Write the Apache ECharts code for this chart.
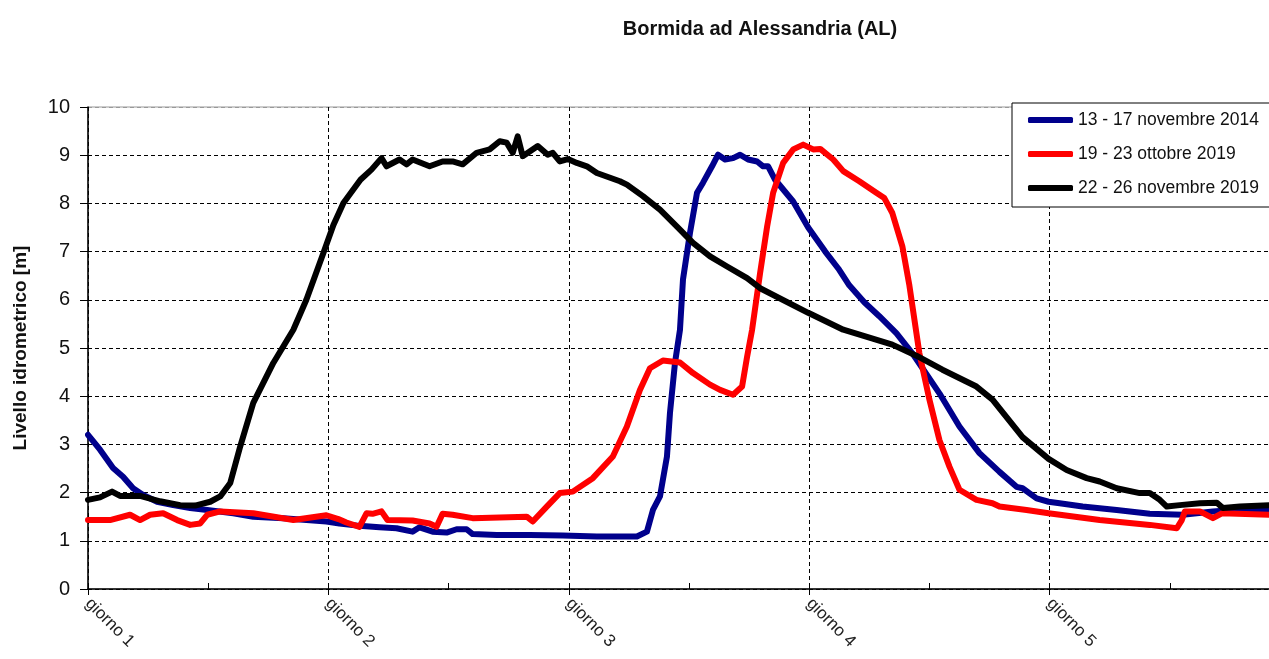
<!DOCTYPE html>
<html>
<head>
<meta charset="utf-8">
<title>Bormida ad Alessandria (AL)</title>
<script src="https://cdn.jsdelivr.net/npm/echarts@6/dist/echarts.min.js"></script>
<style>
  html, body { margin: 0; padding: 0; background: #fff; overflow: hidden; }
  /* the plot runs on to the end of day 5, a little past the window's right edge */
  #chart { width: 1290px; height: 659px; }
</style>
</head>
<body>
<div id="chart"></div>
<script>
// Hydrometric level of the Bormida at Alessandria, three flood events.
// x = hours elapsed since the start of "giorno 1", y = level in metres.

const seriesNames = ['13 - 17 novembre 2014', '19 - 23 ottobre 2019', '22 - 26 novembre 2019'];
const dayLabels = ['giorno 1', 'giorno 2', 'giorno 3', 'giorno 4', 'giorno 5'];
const yTicks = [0, 1, 2, 3, 4, 5, 6, 7, 8, 9, 10];

const nov2014 = [
  [0, 3.20], [1.2, 2.89], [2.5, 2.51], [3.5, 2.33], [4.5, 2.09], [5.5, 1.95], [6.9, 1.81],
  [8.5, 1.74], [10.2, 1.68], [11.9, 1.64], [14.5, 1.57], [16.5, 1.50], [19.5, 1.47],
  [23.8, 1.40], [25.1, 1.36], [27.1, 1.31], [29.1, 1.28], [30.8, 1.26], [32.4, 1.19],
  [33.1, 1.28], [34.4, 1.19], [35.8, 1.17], [36.8, 1.24], [37.8, 1.24], [38.4, 1.14],
  [40.8, 1.12], [44.1, 1.12], [47.4, 1.11], [50.8, 1.09], [54.8, 1.09], [55.8, 1.19],
  [56.4, 1.64], [57.1, 1.92], [57.8, 2.75], [58.1, 3.65], [58.6, 4.69], [59.1, 5.38],
  [59.4, 6.42], [60.1, 7.39], [60.8, 8.22], [61.4, 8.43], [62.3, 8.77], [62.9, 9.01],
  [63.6, 8.91], [64.4, 8.94], [65.1, 9.01], [65.9, 8.91], [66.8, 8.87], [67.4, 8.77],
  [67.9, 8.77], [68.6, 8.49], [70.4, 8.04], [71.9, 7.50], [73.6, 7.00], [74.9, 6.65],
  [76.0, 6.30], [77.5, 5.95], [79.0, 5.66], [80.7, 5.31], [82.3, 4.89], [85.0, 4.06],
  [87.0, 3.37], [89.0, 2.82], [91.0, 2.43], [92.7, 2.12], [93.3, 2.09], [94.7, 1.88],
  [95.9, 1.81], [97.0, 1.78], [99.3, 1.71], [102.7, 1.64], [106.0, 1.56], [109.3, 1.54],
  [112.3, 1.61], [114.3, 1.64], [117.9, 1.64]
];

const oct2019 = [
  [0, 1.43], [2.2, 1.43], [4.2, 1.54], [5.2, 1.43], [6.2, 1.54], [7.5, 1.57], [8.9, 1.43],
  [10.2, 1.33], [11.2, 1.36], [11.9, 1.54], [13.2, 1.61], [16.5, 1.57], [20.5, 1.43],
  [23.8, 1.53], [25.0, 1.45], [25.8, 1.38], [27.1, 1.29], [27.8, 1.57], [28.4, 1.56],
  [29.3, 1.61], [29.9, 1.43], [32.4, 1.42], [34.1, 1.36], [34.8, 1.29], [35.4, 1.56],
  [36.4, 1.54], [38.4, 1.47], [43.8, 1.50], [44.4, 1.40], [45.8, 1.71], [47.1, 1.99],
  [48.4, 2.02], [50.4, 2.30], [52.4, 2.75], [53.8, 3.37], [55.1, 4.13], [56.1, 4.58],
  [57.4, 4.74], [59.1, 4.70], [60.4, 4.48], [62.1, 4.24], [63.1, 4.13], [64.4, 4.03],
  [65.3, 4.20], [65.8, 4.82], [66.3, 5.38], [67.1, 6.56], [67.8, 7.52], [68.4, 8.22],
  [69.4, 8.84], [70.4, 9.12], [71.4, 9.22], [72.4, 9.12], [73.1, 9.13], [74.4, 8.91],
  [75.4, 8.67], [77.0, 8.46], [78.7, 8.22], [79.5, 8.11], [80.3, 7.80], [81.3, 7.11],
  [82.0, 6.30], [83.0, 4.89], [84.0, 3.93], [85.0, 3.09], [86.0, 2.54], [87.0, 2.06],
  [88.7, 1.85], [90.3, 1.78], [91.0, 1.71], [93.7, 1.64], [95.9, 1.57], [101.0, 1.43],
  [106.0, 1.33], [108.7, 1.26], [109.2, 1.43], [109.5, 1.61], [111.0, 1.61], [112.3, 1.47],
  [113.2, 1.57], [117.9, 1.54]
];

const nov2019 = [
  [0, 1.85], [1.2, 1.90], [2.4, 2.02], [3.2, 1.93], [5.2, 1.93], [7.2, 1.82], [9.2, 1.74],
  [10.7, 1.73], [12.2, 1.81], [13.2, 1.92], [14.2, 2.20], [15.2, 2.96], [16.5, 3.86],
  [18.5, 4.69], [20.5, 5.38], [21.8, 6.00], [23.5, 6.97], [24.5, 7.55], [25.5, 8.01],
  [27.2, 8.49], [28.3, 8.70], [29.3, 8.94], [29.8, 8.77], [31.1, 8.91], [31.8, 8.81],
  [32.4, 8.91], [34.1, 8.77], [35.4, 8.87], [36.4, 8.87], [37.4, 8.81], [38.8, 9.05],
  [40.1, 9.12], [41.1, 9.29], [41.8, 9.26], [42.4, 9.05], [42.9, 9.39], [43.4, 8.98],
  [44.9, 9.19], [45.9, 9.01], [46.4, 9.05], [47.1, 8.87], [47.9, 8.92], [48.8, 8.84],
  [49.8, 8.77], [50.8, 8.63], [53.1, 8.46], [53.8, 8.39], [55.4, 8.15], [57.1, 7.87],
  [58.8, 7.52], [60.4, 7.18], [62.1, 6.90], [63.8, 6.69], [65.8, 6.45], [67.1, 6.24],
  [71.9, 5.73], [75.4, 5.38], [80.3, 5.07], [82.7, 4.84], [85.3, 4.55], [88.7, 4.20],
  [90.3, 3.93], [93.3, 3.15], [95.9, 2.70], [97.7, 2.47], [99.7, 2.30], [101.0, 2.23],
  [102.7, 2.09], [105.0, 1.99], [106.0, 1.99], [107.0, 1.85], [107.7, 1.71], [109.0, 1.74],
  [111.0, 1.78], [112.7, 1.79], [113.3, 1.68], [115.0, 1.71], [117.9, 1.74]
];

const lineColors = ['#00008c', '#ff0000', '#000000'];

const chart = echarts.init(document.getElementById('chart'), null, { renderer: 'canvas' });

const gridLine = { color: '#000', width: 1, type: [4, 3] };
const font = 'Liberation Sans, Arial, sans-serif';

function makeSeries(name, data, color) {
  return {
    name: name,
    type: 'line',
    data: data,
    xAxisIndex: 0,
    yAxisIndex: 0,
    showSymbol: false,
    symbol: 'none',
    smooth: false,
    lineStyle: { color: color, width: 6, cap: 'round', join: 'round' },
    itemStyle: { color: color },
    emphasis: { disabled: true }
  };
}

chart.setOption({
  animation: false,
  backgroundColor: '#fff',
  title: {
    text: 'Bormida ad Alessandria (AL)',
    left: 755,
    top: 14,
    textAlign: 'center',
    textStyle: { fontFamily: font, fontSize: 20, fontWeight: 'bold', color: '#111' }
  },
  legend: {
    orient: 'vertical',
    left: 1012,
    top: 103,
    padding: [8, 30, 10, 16],
    itemGap: 16,
    itemWidth: 45,
    itemHeight: 6,
    icon: 'roundRect',
    borderColor: '#000',
    borderWidth: 1,
    backgroundColor: '#fff',
    data: seriesNames,
    textStyle: { fontFamily: font, fontSize: 17.5, color: '#111' }
  },
  grid: {
    left: 88,
    right: 0,
    top: 107,
    bottom: 70,
    show: true,
    borderColor: '#999',
    borderWidth: 1,
    backgroundColor: '#fff'
  },
  xAxis: [
    {
      type: 'value',
      min: 0,
      max: 120,
      interval: 24,
      axisLine: { show: true, onZero: false, lineStyle: { color: '#000', width: 1.5 } },
      axisTick: { show: true, inside: false, length: 6, lineStyle: { color: '#000' } },
      splitLine: { show: true, lineStyle: gridLine },
      axisLabel: {
        rotate: -45,
        margin: 12,
        fontFamily: font,
        fontSize: 17,
        color: '#222',
        showMaxLabel: false,
        formatter: function (v) { return dayLabels[Math.round(v / 24)] || ''; }
      }
    },
    {
      type: 'value',
      min: 0,
      max: 120,
      interval: 12,
      position: 'bottom',
      offset: 0,
      axisLine: { show: false },
      axisTick: { show: true, inside: true, length: 6, lineStyle: { color: '#000' } },
      splitLine: { show: false },
      axisLabel: { show: false }
    }
  ],
  yAxis: {
    type: 'value',
    min: yTicks[0],
    max: yTicks[yTicks.length - 1],
    interval: 1,
    name: 'Livello idrometrico [m]',
    nameLocation: 'middle',
    nameRotate: 90,
    nameGap: 58,
    nameTextStyle: { fontFamily: font, fontSize: 19, fontWeight: 'bold', color: '#111' },
    axisLine: { show: true, lineStyle: { color: '#000', width: 1.5 } },
    axisTick: { show: true, inside: false, length: 8, lineStyle: { color: '#000' } },
    splitLine: {
      show: true,
      lineStyle: {
        color: yTicks.map(function (v, i) { return i === yTicks.length - 1 ? '#999' : '#000'; }),
        width: 1,
        type: [4, 3]
      }
    },
    axisLabel: { margin: 18, fontFamily: font, fontSize: 20, color: '#111' }
  },
  series: [
    makeSeries(seriesNames[0], nov2014, lineColors[0]),
    makeSeries(seriesNames[1], oct2019, lineColors[1]),
    makeSeries(seriesNames[2], nov2019, lineColors[2])
  ]
});
</script>
</body>
</html>
